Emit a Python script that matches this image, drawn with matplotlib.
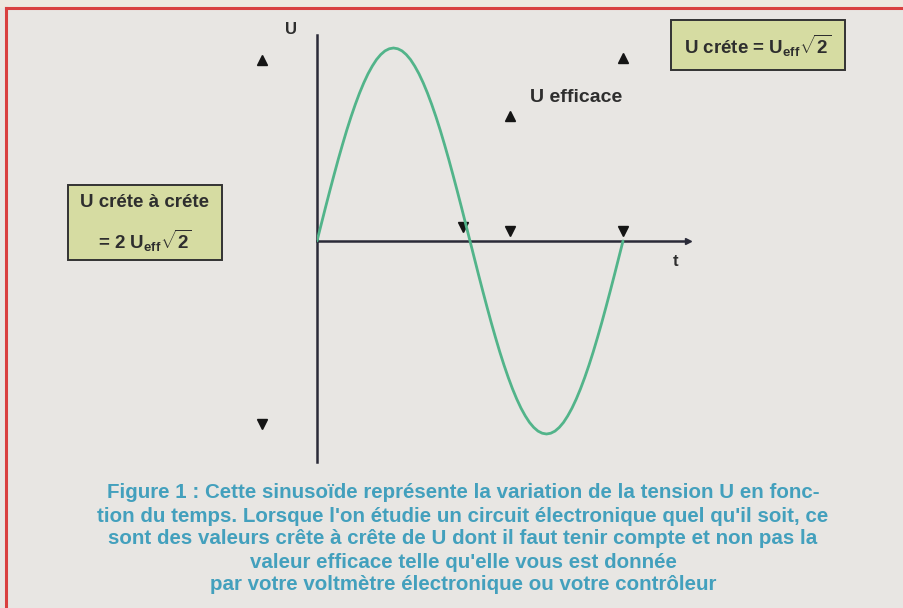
import matplotlib
matplotlib.use("Agg")
import matplotlib.pyplot as plt
from matplotlib.patches import Rectangle
from matplotlib.lines import Line2D

# ---- data ----
# one period of the voltage, sampled every 5 degrees (t in periods, U relative to peak)
t_vals = [i / 72 for i in range(73)]
u_vals = [0.000, 0.087, 0.174, 0.259, 0.342, 0.423, 0.500, 0.574, 0.643, 0.707,
          0.766, 0.819, 0.866, 0.906, 0.940, 0.966, 0.985, 0.996, 1.000,
          0.996, 0.985, 0.966, 0.940, 0.906, 0.866, 0.819, 0.766, 0.707, 0.643,
          0.574, 0.500, 0.423, 0.342, 0.259, 0.174, 0.087, 0.000,
          -0.087, -0.174, -0.259, -0.342, -0.423, -0.500, -0.574, -0.643, -0.707,
          -0.766, -0.819, -0.866, -0.906, -0.940, -0.966, -0.985, -0.996, -1.000,
          -0.996, -0.985, -0.966, -0.940, -0.906, -0.866, -0.819, -0.766, -0.707, -0.643,
          -0.574, -0.500, -0.423, -0.342, -0.259, -0.174, -0.087, 0.000]

up_t = [-0.18, 0.631, 1.0]
up_u = [0.94, 0.65, 0.95]
down_t = [-0.18, 0.631, 1.0, 0.477]
down_u = [-0.95, 0.05, 0.05, 0.075]

label_peak = r"U créte = U$_{\mathrm{eff}}\sqrt{2}$"
label_pp1 = "U créte à créte"
label_pp2 = r"= 2 U$_{\mathrm{eff}}\sqrt{2}$"
label_rms = "U efficace"
caption = [
    "Figure 1 : Cette sinusoïde représente la variation de la tension U en fonc-",
    "tion du temps. Lorsque l'on étudie un circuit électronique quel qu'il soit, ce",
    "sont des valeurs crête à crête de U dont il faut tenir compte et non pas la",
    "valeur efficace telle qu'elle vous est donnée",
    "par votre voltmètre électronique ou votre contrôleur",
]

W, H = 904, 608
fig = plt.figure(figsize=(W / 100, H / 100), dpi=100)
fig.patch.set_facecolor("#e8e6e3")

def fx(px):
    return px / W

def fy(py):
    return 1 - py / H

# top strip and red border
fig.patches.append(Rectangle((0, fy(8)), 1, 8 / H, transform=fig.transFigure,
                             facecolor="#eee8df", edgecolor="none", zorder=0))
fig.lines.append(Line2D([fx(6), 1], [fy(8), fy(8)], transform=fig.transFigure,
                        color="#d9403f", lw=2.2))
fig.lines.append(Line2D([fx(6), fx(6)], [0, fy(8)], transform=fig.transFigure,
                        color="#d9403f", lw=2.2))

# plot axes: x from 317 to 688 px, y from 35 to 462 px
x0, x1, y0, y1 = 317, 688, 35, 462
ax = fig.add_axes([fx(x0), fy(y1), (x1 - x0) / W, (y1 - y0) / H])
ax.set_facecolor("none")
ax.set_xlim(0, (x1 - x0) / 306)
ax.set_ylim(-(y1 - 241) / 193, (241 - y0) / 193)
for s in ["top", "right"]:
    ax.spines[s].set_visible(False)
ax.spines["left"].set_position(("data", 0))
ax.spines["bottom"].set_position(("data", 0))
for s in ["left", "bottom"]:
    ax.spines[s].set_color("#2a2a38")
    ax.spines[s].set_linewidth(1.8)
ax.set_xticks([])
ax.set_yticks([])
ax.plot(1, 0, marker=">", color="#2a2a38", markersize=5, transform=ax.get_yaxis_transform(), clip_on=False)

ax.plot(t_vals, u_vals, color="#52b48a", lw=2.0, solid_capstyle="round",
        solid_joinstyle="round", zorder=3)
ax.plot(up_t, up_u, linestyle="none", marker="^", color="#151515", markersize=6.5, clip_on=False)
ax.plot(down_t, down_u, linestyle="none", marker="v", color="#151515", markersize=6.5, clip_on=False)

font = ["Liberation Sans", "DejaVu Sans"]
dark = "#2e2e2e"
fig.text(fx(291), fy(30), "U", fontsize=12, fontweight="bold", color=dark,
         family=font, ha="center", va="center")
fig.text(fx(676), fy(262), "t", fontsize=12, fontweight="bold", color=dark,
         family=font, ha="center", va="center")
fig.text(fx(576), fy(98), label_rms, fontsize=14, fontweight="bold", color=dark,
         family=font, ha="center", va="center")

box_fc = "#d6dca2"
fig.patches.append(Rectangle((fx(68), fy(260)), (222 - 68) / W, (260 - 185) / H,
                             transform=fig.transFigure, facecolor=box_fc,
                             edgecolor="#333333", lw=1.4, zorder=2))
fig.patches.append(Rectangle((fx(671), fy(70)), (845 - 671) / W, (70 - 20) / H,
                             transform=fig.transFigure, facecolor=box_fc,
                             edgecolor="#333333", lw=1.4, zorder=2))
plt.rcParams["mathtext.fontset"] = "custom"
plt.rcParams["mathtext.rm"] = "Liberation Sans:bold"
plt.rcParams["mathtext.it"] = "Liberation Sans:bold"
plt.rcParams["mathtext.bf"] = "Liberation Sans:bold"
fig.text(fx(145), fy(203), label_pp1, fontsize=13.5, fontweight="bold", color=dark,
         family=font, ha="center", va="center", zorder=3)
fig.text(fx(145), fy(241), label_pp2, fontsize=13.5, fontweight="bold", color=dark,
         family=font, ha="center", va="center", zorder=3)
fig.text(fx(758), fy(46), label_peak, fontsize=13.5, fontweight="bold", color=dark,
         family=font, ha="center", va="center", zorder=3)

cap_y = [493, 516, 539, 562, 585]
for line, yy in zip(caption, cap_y):
    fig.text(fx(463), fy(yy), line, fontsize=14.8, fontweight="bold",
             color="#43a0bd", family=["Liberation Sans", "DejaVu Sans"],
             ha="center", va="center")

fig.savefig("out.png", dpi=100, facecolor=fig.get_facecolor())
